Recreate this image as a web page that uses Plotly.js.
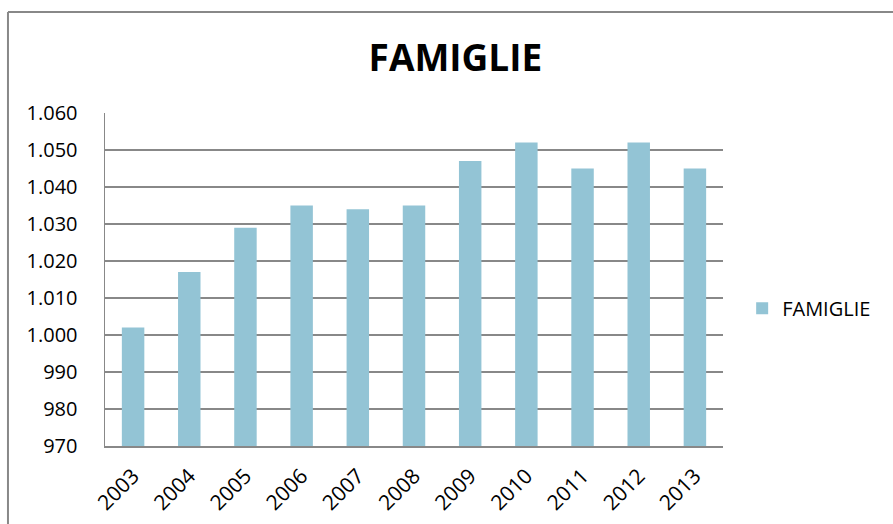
<!DOCTYPE html>
<html>
<head>
<meta charset="utf-8">
<script src="https://cdn.plot.ly/plotly-3.0.1.min.js"></script>
<style>
html,body{margin:0;padding:0;background:#fff;}
#chart{width:893px;height:524px;}
</style>
</head>
<body>
<div id="chart"></div>
<script>
const years = ['2003','2004','2005','2006','2007','2008','2009','2010','2011','2012','2013'];
const famiglie = [1002, 1017, 1029, 1035, 1034, 1035, 1047, 1052, 1045, 1052, 1045];
const yTicks = [970, 980, 990, 1000, 1010, 1020, 1030, 1040, 1050, 1060];
const seriesName = 'FAMIGLIE';

const font = "Open Sans, Liberation Sans, sans-serif";

const trace = {
  type: 'bar',
  x: years,
  y: famiglie,
  name: seriesName,
  marker: {color: '#93C4D5'},
  showlegend: true
};

const layout = {
  width: 893,
  height: 524,
  margin: {l: 105, r: 170, t: 113, b: 78},
  paper_bgcolor: '#fff',
  plot_bgcolor: '#fff',
  separators: ',.',
  bargap: 0.6,
  title: {
    text: '<b>FAMIGLIE</b>',
    font: {family: font, size: 37, color: '#000'},
    x: 0.51, xanchor: 'center',
    y: 0.89, yanchor: 'middle'
  },
  xaxis: {
    type: 'category',
    tickangle: -45,
    tickfont: {family: font, size: 21, color: '#000'},
    showline: true, linecolor: '#888', linewidth: 1.5,
    showgrid: false, ticks: '', ticklabelstandoff: 8, fixedrange: true
  },
  yaxis: {
    range: [970, 1060],
    tickvals: yTicks,
    tickformat: ',d',
    tickfont: {family: font, size: 20, color: '#000'},
    showline: true, linecolor: '#888', linewidth: 1.5,
    showgrid: true, gridcolor: '#888', gridwidth: 1.2,
    zeroline: false, ticks: '', ticklabelstandoff: 22, fixedrange: true
  },
  legend: {
    x: 1.031, xanchor: 'left',
    y: 0.414, yanchor: 'middle',
    font: {family: font, size: 20, color: '#000'},
    itemwidth: 30
  },
  shapes: [
    {type: 'line', xref: 'paper', yref: 'paper', x0: -0.157, x1: 1.3, y0: 1.303, y1: 1.303, line: {color: '#888', width: 2}},
    {type: 'line', xref: 'paper', yref: 'paper', x0: -0.157, x1: -0.157, y0: 1.303, y1: -0.3, line: {color: '#888', width: 2}}
  ]
};

Plotly.newPlot('chart', [trace], layout, {displayModeBar: false, staticPlot: true});
</script>
</body>
</html>
